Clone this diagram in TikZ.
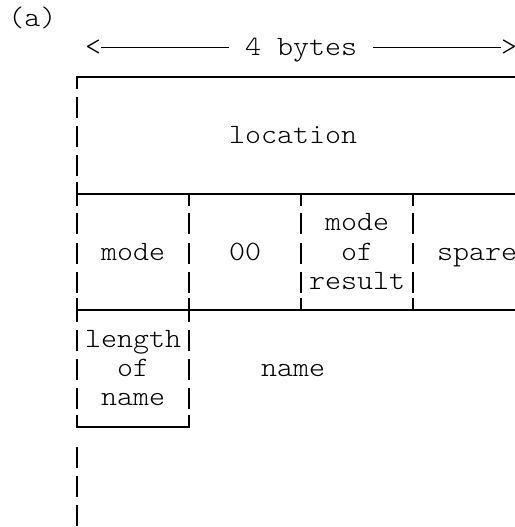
\documentclass[tikz,border=0pt]{standalone}
\usepackage{fontspec}
% light typewriter face, widened so one character takes one 16pt grid cell
\newfontfamily\mono{lmmonolt10-regular}[Extension=.otf,FakeStretch=1.0884]
\begin{document}
\begin{tikzpicture}[x=16pt,y=-29.17pt,
  txt/.style={anchor=base west,inner sep=0pt,yshift=-8pt,
              font=\mono\fontsize{28pt}{29pt}\selectfont},
  rule/.style={line width=1.8pt,line join=miter},
  bar/.style={line width=1.5pt},
  dim/.style={line width=1.2pt}]
% character grid: column c is centred at x=c, row r at y=r
\useasboundingbox (-0.8125,-0.6411) rectangle (31.375,17.4263);
\fill[white] (-0.8125,-0.6411) rectangle (31.375,17.4263);
\clip (-0.8125,-0.6411) rectangle (31.375,17.4263);

% labels
\node[txt] (lbl)   at (-0.3,0)  {(a)};
\node[txt] (lt)    at (4.5,1)   {<};
\node[txt] (four)  at (14.5,1)  {4};
\node[txt] (bytes) at (16.5,1)  {bytes};
\node[txt] (gt)    at (30.5,1)  {>};
\node[txt] (loc)   at (13.5,4)  {location};
\node[txt] (mode)  at (5.5,8)   {mode};
\node[txt] (zero)  at (13.5,8)  {00};
\node[txt] (mr1)   at (19.5,7)  {mode};
\node[txt] (mr2)   at (20.5,8)  {of};
\node[txt] (mr3)   at (18.5,9)  {result};
\node[txt] (spare) at (26.5,8)  {spare};
\node[txt] (ln1)   at (4.5,11)  {length};
\node[txt] (ln2)   at (6.5,12)  {of};
\node[txt] (ln3)   at (5.5,13)  {name};
\node[txt] (name)  at (15.5,12) {name};

% width dimension
\draw[dim] (lt.east |- 5.5,1) -- (13.5,1);
\draw[dim] (22.5,1) -- (gt.west |- 30.5,1);

% horizontal rules with their corner arms
\draw[rule] ([yshift=-12pt]4,2) -- (4,2) -- (32,2);
\draw[rule] ([yshift=12pt]4,6) -- ([yshift=-12pt]4,6);
\draw[rule] (4,6) -- (32,6);
\foreach \c in {11,18,25}
  \draw[rule] (\c,6) -- ([yshift=-12pt]\c,6);
\draw[rule] ([yshift=12pt]4,10) -- ([yshift=-12pt]4,10);
\draw[rule] ([yshift=12pt]11,10) -- ([yshift=-12pt]11,10);
\draw[rule] (4,10) -- (32,10);
\foreach \c in {18,25}
  \draw[rule] (\c,10) -- ([yshift=12pt]\c,10);
\draw[rule] ([yshift=12pt]4,14) -- (4,14) -- (11,14) -- ([yshift=12pt]11,14);

% vertical bars, one per text row
\foreach \c/\r in {4/3,4/4,4/5,
                   4/7,4/8,4/9,11/7,11/8,11/9,18/7,18/8,18/9,25/7,25/8,25/9,
                   4/11,4/12,4/13,11/11,11/12,11/13,
                   4/15,4/16,4/17}
  \draw[bar] ([yshift=9.5pt]\c,\r) -- ([yshift=-11.5pt]\c,\r);
\end{tikzpicture}
\end{document}
